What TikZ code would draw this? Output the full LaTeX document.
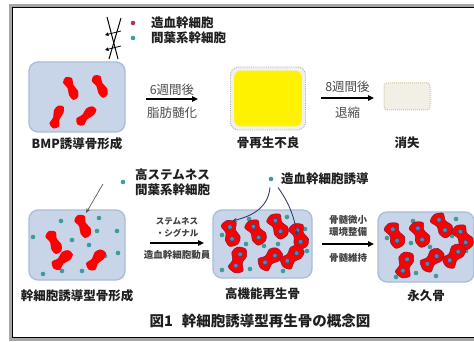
\documentclass[tikz,border=0pt]{standalone}
\usepackage{fontspec}
\setmainfont{Noto Sans CJK JP}
\usetikzlibrary{positioning,arrows.meta}

\definecolor{boxfill}{HTML}{C8D4E8}
\definecolor{boxline}{HTML}{A9BCD8}
\definecolor{stemteal}{HTML}{3E9A9C}
\definecolor{hscred}{HTML}{B0345E}
\definecolor{innerblue}{HTML}{4A88C0}
\definecolor{boneedge}{HTML}{8A1C3C}
\definecolor{homingblue}{HTML}{33406E}
\definecolor{shrunkfill}{HTML}{F2F0E6}
\definecolor{shrunkline}{HTML}{D2C29C}

\begin{document}
\begin{tikzpicture}[
    x=1pt, y=-1pt,
    bonebox/.style={
        rectangle, rounded corners=9pt, fill=boxfill, draw=boxline, line width=1.3pt,
        minimum width=96pt, minimum height=70pt
    },
    boxtitle/.style={font=\fontsize{12.5}{15}\selectfont\bfseries, text=black!88, inner sep=1pt},
    steptext/.style={font=\fontsize{12.5}{15}\selectfont, text=black!70, inner sep=1pt},
    smallstep/.style={font=\fontsize{8.5}{12}\selectfont\bfseries, text=black!75, inner sep=1pt, align=center},
    flow/.style={-{Triangle[length=6pt,width=5.5pt]}, line width=1.4pt},
    homing/.style={-{Stealth[length=5pt,width=4pt]}, line width=0.9pt, draw=homingblue},
    pointer/.style={-{Stealth[length=5pt,width=4pt]}, line width=0.7pt, draw=black!65},
    celldot/.style={circle, inner sep=0pt, minimum size=4.6pt},
    redbone/.style={fill=red},
    newbone/.style={fill=red, draw=boneedge, line width=0.6pt}
]
    \useasboundingbox (0,0) rectangle (474,342);

    % frame
    \draw [gray!70, line width=2.5pt] (10.5,5.5) rectangle (490,339.5);
    \draw [black, line width=0.9pt] (12,7) rectangle (490,337);

    % legend
    \draw [line width=1pt] (107,17) -- (118,59);
    \draw [line width=1pt] (121,18) -- (109,59);
    \draw [-{Triangle[length=3.5pt,width=3.5pt]}, line width=0.8pt] (121,31) -- (105,35);
    \draw [-{Triangle[length=3.5pt,width=3.5pt]}, line width=0.8pt] (121,46) -- (105,50);
    \node (hscdot) [celldot, fill=hscred] at (133,23) {};
    \node (mscdot) [celldot, fill=stemteal] at (133,38) {};
    \node (hsctext) [boxtitle, right=14.5pt of hscdot] {造血幹細胞};
    \node (msctext) [boxtitle, right=14.5pt of mscdot] {間葉系幹細胞};

    % BMP route
    \node (bmp) [bonebox] at (77,97) {};
    \foreach \x/\y/\a in {71/88/-69, 100/86/-66, 57/117/67, 86/116/41}
        \fill [redbone, shift={(\x,\y)}, rotate=\a, yscale=1.1] plot [smooth cycle] coordinates
            {(-12,1) (-9,-4) (-2,-3) (5,-5) (11,-3) (12,2) (6,4) (-1,3) (-8,5)};
    \node (bmptitle) [boxtitle, below=3.5pt of bmp] {BMP誘導骨形成};

    \node (poor) [rectangle, rounded corners=8pt, fill=gray!12, draw=gray!60, densely dotted,
        line width=0.9pt, minimum width=75pt, minimum height=63pt] at (268,98.5) {};
    \fill [yellow, rounded corners=7pt] ([shift={(4,4)}]poor.north west) rectangle ([shift={(-4,-4)}]poor.south east);
    \node (poortitle) [boxtitle, below=5.5pt of poor] {骨再生不良};

    \node (gone) [rectangle, rounded corners=3pt, fill=shrunkfill, draw=shrunkline, densely dotted,
        line width=1pt, minimum width=46pt, minimum height=27pt] at (407,96.5) {};
    \node (gonetitle) [boxtitle, below=25.5pt of gone] {消失};

    \coordinate (s1) at (146,99);
    \coordinate (e1) at (198,99);
    \coordinate (s2) at (321,98);
    \coordinate (e2) at (374,98);
    \draw [flow] (s1) -- node [steptext, above=2pt] {6週間後} node [steptext, below=6.5pt] {脂肪髄化} (e1);
    \draw [flow] (s2) -- node [steptext, above=3.5pt] {8週間後} node [steptext, below=7.5pt] {退縮} (e2);

    % stem cell route
    \node (stemdot) [celldot, fill=stemteal] at (123,182) {};
    \node (stemtext) [boxtitle, align=left, right=8.5pt of stemdot] {高ステムネス\\間葉系幹細胞};

    \node (induced) [bonebox] at (77,245) {};
    \foreach \x/\y in {61/221, 99/218, 33/237, 72/240, 89/245, 97/231, 117/231, 69/253,
                       105/256, 118/253, 43/274, 62/271, 82/271}
        \fill [stemteal] (\x,\y) circle (2.3pt);
    \foreach \x/\y/\a in {54/242/-70, 83/226/-69, 62/260/39, 96/260/47}
        \fill [redbone, shift={(\x,\y)}, rotate=\a, yscale=1.25] plot [smooth cycle] coordinates
            {(-12,1) (-9,-4) (-2,-3) (5,-5) (11,-3) (12,2) (6,4) (-1,3) (-8,5)};
    \node (inducedtitle) [boxtitle, below=8pt of induced] {幹細胞誘導型骨形成};
    \coordinate (ptr) at (103,184);
    \coordinate (ptrtip) at (86,213);
    \draw [pointer] (ptr) -- (ptrtip);

    \node (regen) [bonebox, minimum width=99pt, minimum height=68pt] at (262.5,244) {};
    \foreach \x/\y in {222/235, 249/219, 287/217, 305/229, 246/244, 278/244, 307/251,
                       250/269, 283/271, 222/270, 264/246}
        \fill [stemteal] (\x,\y) circle (2.3pt);
    \foreach \x/\y/\a in {231/233/-80, 256/232/-65, 278/226/-65, 299/236/-75,
                          238/260/70, 270/259/35, 292/257/40} {
        \filldraw [newbone, shift={(\x,\y)}, rotate=\a, scale=1.08, yscale=1.55] plot [smooth cycle] coordinates
            {(-12,1) (-9,-4) (-2,-3) (5,-5) (11,-3) (12,2) (6,4) (-1,3) (-8,5)};
        \filldraw [innerblue, draw=homingblue, line width=0.4pt, shift={(\x,\y)}, rotate=\a]
            (-6,0) circle (2.4pt) (6,0) circle (2.4pt);
    }
    \node (regentitle) [boxtitle, below=7.5pt of regen] {高機能再生骨};

    \node (homedot) [celldot, fill=stemteal] at (271,179) {};
    \node (hometext) [boxtitle, right=6.5pt of homedot] {造血幹細胞誘導};
    \coordinate (h1) at (232,221);
    \coordinate (h2) at (297,236);
    \draw [homing] ([shift={(-1,6)}]homedot.south) .. controls (268,208) and (252,216) .. (h1);
    \draw [homing] ([shift={(7,6)}]homedot.south) .. controls (287,200) and (294,214) .. (h2);

    \node (perm) [bonebox, minimum width=96pt, minimum height=70pt] at (426,247) {};
    \foreach \x/\y in {387/238, 413/221, 411/243, 430/247, 466/251, 396/277, 416/273,
                       436/276, 452/236, 456/219}
        \fill [stemteal] (\x,\y) circle (2.3pt);
    \foreach \x/\y/\a in {395/235/-70, 420/234/-70, 442/225/-60, 463/237/-65,
                          405/265/70, 432/260/40, 454/256/45} {
        \filldraw [newbone, shift={(\x,\y)}, rotate=\a, scale=1.08, yscale=1.55] plot [smooth cycle] coordinates
            {(-12,1) (-9,-4) (-2,-3) (5,-5) (11,-3) (12,2) (6,4) (-1,3) (-8,5)};
        \filldraw [innerblue, draw=homingblue, line width=0.4pt, shift={(\x,\y)}, rotate=\a]
            (-6,0) circle (2.4pt) (6,0) circle (2.4pt);
    }
    \node (permtitle) [boxtitle, below=5.5pt of perm] {永久骨};

    \coordinate (s3) at (150,243);
    \coordinate (e3) at (204,243);
    \coordinate (s4) at (322,244);
    \coordinate (e4) at (374,244);
    \draw [flow] (s3) -- node [smallstep, above=4pt] {ステムネス\\・シグナル}
        node [smallstep, font=\fontsize{9.5}{12}\selectfont\bfseries, below=6pt] {造血幹細胞動員} (e3);
    \draw [flow] (s4) -- node [smallstep, font=\fontsize{9.5}{12}\selectfont\bfseries, above=6pt] {骨髄微小\\環境整備}
        node [smallstep, font=\fontsize{9.5}{12}\selectfont\bfseries, below=8pt] {骨髄維持} (e4);

    \node (caption) [boxtitle, font=\fontsize{14.5}{17}\selectfont\bfseries] at (260,321) {図1\hspace{0.6em}幹細胞誘導型再生骨の概念図};
\end{tikzpicture}
\end{document}
